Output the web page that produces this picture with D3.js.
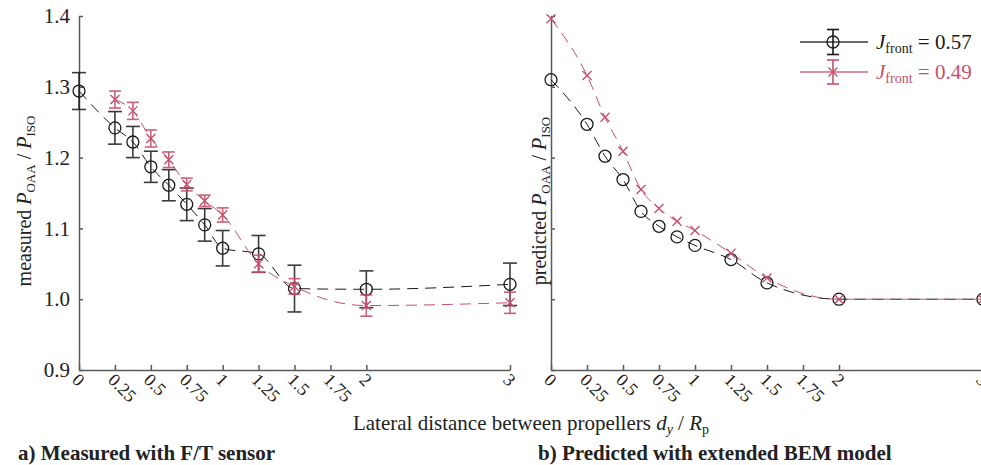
<!DOCTYPE html>
<html>
<head>
<meta charset="utf-8">
<script src="https://cdn.jsdelivr.net/npm/d3@7"></script>
<style>
  body { margin: 0; background: #fff; }
</style>
</head>
<body>
<div id="chart"></div>
<script>
// x positions (d_y / R_p)
const xs = [0, 0.25, 0.375, 0.5, 0.625, 0.75, 0.875, 1, 1.25, 1.5, 2, 3];
const xTickVals = [0, 0.25, 0.5, 0.75, 1, 1.25, 1.5, 1.75, 2, 3];
const xTickLabels = ['0', '0.25', '0.5', '0.75', '1', '1.25', '1.5', '1.75', '2', '3'];
const yTickVals = [0.9, 1.0, 1.1, 1.2, 1.3, 1.4];

// measured, J = 0.57 (black)
const measBlack    = [1.294, 1.242, 1.222, 1.187, 1.161, 1.134, 1.105, 1.072, 1.064, 1.015, 1.014, 1.021];
const measBlackErr = [0.026, 0.023, 0.022, 0.022, 0.022, 0.023, 0.023, 0.025, 0.026, 0.033, 0.026, 0.030];
// measured, J = 0.49 (red), no point at 0
const xsRed      = [0.25, 0.375, 0.5, 0.625, 0.75, 0.875, 1, 1.25, 1.5, 2, 3];
const measRed    = [1.282, 1.266, 1.227, 1.197, 1.162, 1.139, 1.119, 1.050, 1.018, 0.991, 0.995];
const measRedErr = [0.012, 0.012, 0.012, 0.011, 0.009, 0.008, 0.010, 0.012, 0.011, 0.015, 0.015];

// predicted (BEM)
const predBlack = [1.310, 1.247, 1.202, 1.169, 1.124, 1.103, 1.088, 1.076, 1.056, 1.023, 1.000, 1.000];
const predRed   = [1.396, 1.316, 1.257, 1.209, 1.155, 1.128, 1.110, 1.097, 1.065, 1.030, 1.000, 1.000];

const W = 981, H = 465;
const FONT = 'Liberation Serif, Times New Roman, serif';
const BLACK = '#1a1a1a', RED = '#c5506c', AXIS = '#5a5a5a';

const svg = d3.select('#chart').append('svg')
  .attr('width', W).attr('height', H);

const y = d3.scaleLinear().domain([0.9, 1.4]).range([370, 16]);

function panel(x0, x1, withLabels, blackV, blackE, redV, redE, yTitle, titleX) {
  const x = d3.scaleLinear().domain([0, 3]).range([x0, x1]);
  const g = svg.append('g');

  // axes
  const yAxis = d3.axisLeft(y).tickValues(yTickVals).tickSizeInner(-4).tickSizeOuter(0)
    .tickFormat(withLabels ? d3.format('.1f') : '');
  const ya = g.append('g').attr('transform', `translate(${x0},0)`).call(yAxis);
  const xAxis = d3.axisBottom(x).tickValues(xTickVals).tickSizeInner(-5).tickSizeOuter(0).tickFormat('');
  const xa = g.append('g').attr('transform', `translate(0,370)`).call(xAxis);
  [ya, xa].forEach(a => {
    a.select('.domain').attr('stroke', AXIS).attr('stroke-width', 1.5);
    a.selectAll('.tick line').attr('stroke', AXIS).attr('stroke-width', 1.5);
  });
  ya.selectAll('.tick text').attr('font-size', 21).attr('fill', '#222').attr('x', -9);

  // rotated x tick labels
  g.append('g').selectAll('text').data(xTickVals).join('text')
    .attr('transform', (d) => `translate(${x(d) - 8},${381}) rotate(45)`)
    .attr('font-size', 18).attr('fill', '#222')
    .text((d, i) => xTickLabels[i]);

  // y title
  const t = g.append('text')
    .attr('transform', `translate(${titleX},${201}) rotate(-90)`)
    .attr('text-anchor', 'middle').attr('font-size', 20).attr('fill', '#222');
  t.append('tspan').text(yTitle + ' ');
  t.append('tspan').attr('font-style', 'italic').text('P');
  t.append('tspan').attr('font-size', 13).attr('dy', 4).text('OAA');
  t.append('tspan').attr('dy', -4).text(' / ');
  t.append('tspan').attr('font-style', 'italic').text('P');
  t.append('tspan').attr('font-size', 13).attr('dy', 4).text('ISO');

  const line = d3.line().curve(d3.curveMonotoneX).x(d => x(d[0])).y(d => y(d[1]));

  function series(xv, vals, errs, color, marker) {
    const pts = xv.map((d, i) => [d, vals[i], errs ? errs[i] : 0]);
    g.append('path').datum(pts).attr('d', line)
      .attr('fill', 'none').attr('stroke', color).attr('stroke-width', 1)
      .attr('stroke-dasharray', '11,7');
    if (errs) {
      const cap = marker === 'o' ? 7 : 6;
      const eg = g.append('g').attr('stroke', color).attr('stroke-width', 1.6)
        .attr('opacity', marker === 'o' ? 0.85 : 0.9);
      eg.selectAll('line.v').data(pts).join('line')
        .attr('x1', d => x(d[0])).attr('x2', d => x(d[0]))
        .attr('y1', d => y(d[1] + d[2])).attr('y2', d => y(d[1] - d[2]));
      eg.selectAll('line.t').data(pts).join('line')
        .attr('x1', d => x(d[0]) - cap).attr('x2', d => x(d[0]) + cap)
        .attr('y1', d => y(d[1] + d[2])).attr('y2', d => y(d[1] + d[2]));
      eg.selectAll('line.b').data(pts).join('line')
        .attr('x1', d => x(d[0]) - cap).attr('x2', d => x(d[0]) + cap)
        .attr('y1', d => y(d[1] - d[2])).attr('y2', d => y(d[1] - d[2]));
    }
    if (marker === 'o') {
      g.append('g').selectAll('circle').data(pts).join('circle')
        .attr('cx', d => x(d[0])).attr('cy', d => y(d[1])).attr('r', 6)
        .attr('fill', 'none').attr('stroke', color).attr('stroke-width', 1.3);
    } else {
      g.append('g').selectAll('path').data(pts).join('path')
        .attr('d', d => {
          const cx = x(d[0]), cy = y(d[1]), s = 4.5;
          return `M${cx - s},${cy - s}L${cx + s},${cy + s}M${cx - s},${cy + s}L${cx + s},${cy - s}`;
        })
        .attr('stroke', color).attr('stroke-width', 1.4);
    }
  }

  series(xs, blackV, blackE, BLACK, 'o');
  series(redV === measRed ? xsRed : xs, redV, redE, RED, 'x');
  return x;
}

// left: measured
panel(79, 510, true, measBlack, measBlackErr, measRed, measRedErr, 'measured', 31);
// right: predicted
panel(551, 983, false, predBlack, null, predRed, null, 'predicted', 546);

// legend
const leg = svg.append('g');
[[42, BLACK, 'o', '0.57', 12.5], [72, RED, 'x', '0.49', 12]].forEach(([ly, c, m, v, e]) => {
  leg.append('line').attr('x1', 800).attr('x2', 868).attr('y1', ly).attr('y2', ly)
    .attr('stroke', c).attr('stroke-width', 1.3).attr('opacity', 0.85);
  leg.append('line').attr('x1', 833).attr('x2', 833).attr('y1', ly - e).attr('y2', ly + e)
    .attr('stroke', c).attr('stroke-width', 1.6);
  [ly - e, ly + e].forEach(yy => leg.append('line').attr('x1', 827).attr('x2', 839)
    .attr('y1', yy).attr('y2', yy).attr('stroke', c).attr('stroke-width', 1.6));
  if (m === 'o') {
    leg.append('circle').attr('cx', 833).attr('cy', ly).attr('r', 6)
      .attr('fill', 'none').attr('stroke', c).attr('stroke-width', 1.3);
  } else {
    leg.append('path').attr('d', `M828.5,${ly - 4.5}L837.5,${ly + 4.5}M828.5,${ly + 4.5}L837.5,${ly - 4.5}`)
      .attr('stroke', c).attr('stroke-width', 1.4);
  }
  const t = leg.append('text').attr('x', 876).attr('y', ly + 7).attr('font-size', 21).attr('fill', c);
  t.append('tspan').attr('font-style', 'italic').text('J');
  t.append('tspan').attr('font-size', 14).attr('dy', 4).text('front');
  t.append('tspan').attr('dy', -4).text(' = ' + v);
});

// x title
const xt = svg.append('text').attr('x', 531).attr('y', 430).attr('text-anchor', 'middle')
  .attr('font-size', 21).attr('fill', '#222');
xt.append('tspan').text('Lateral distance between propellers ');
xt.append('tspan').attr('font-style', 'italic').text('d');
xt.append('tspan').attr('font-style', 'italic').attr('font-size', 14).attr('dy', 4).text('y');
xt.append('tspan').attr('dy', -4).text(' / ');
xt.append('tspan').attr('font-style', 'italic').text('R');
xt.append('tspan').attr('font-size', 14).attr('dy', 4).text('p');

// panel captions
svg.append('text').attr('x', 18).attr('y', 460).attr('font-size', 21).attr('font-weight', 'bold')
  .attr('fill', '#222').text('a) Measured with F/T sensor');
svg.append('text').attr('x', 538).attr('y', 460).attr('font-size', 21).attr('font-weight', 'bold')
  .attr('fill', '#222').text('b) Predicted with extended BEM model');

// serif everywhere (axis groups default to sans-serif)
svg.selectAll('text').attr('font-family', FONT);
svg.selectAll('g').attr('font-family', FONT);
</script>
</body>
</html>
